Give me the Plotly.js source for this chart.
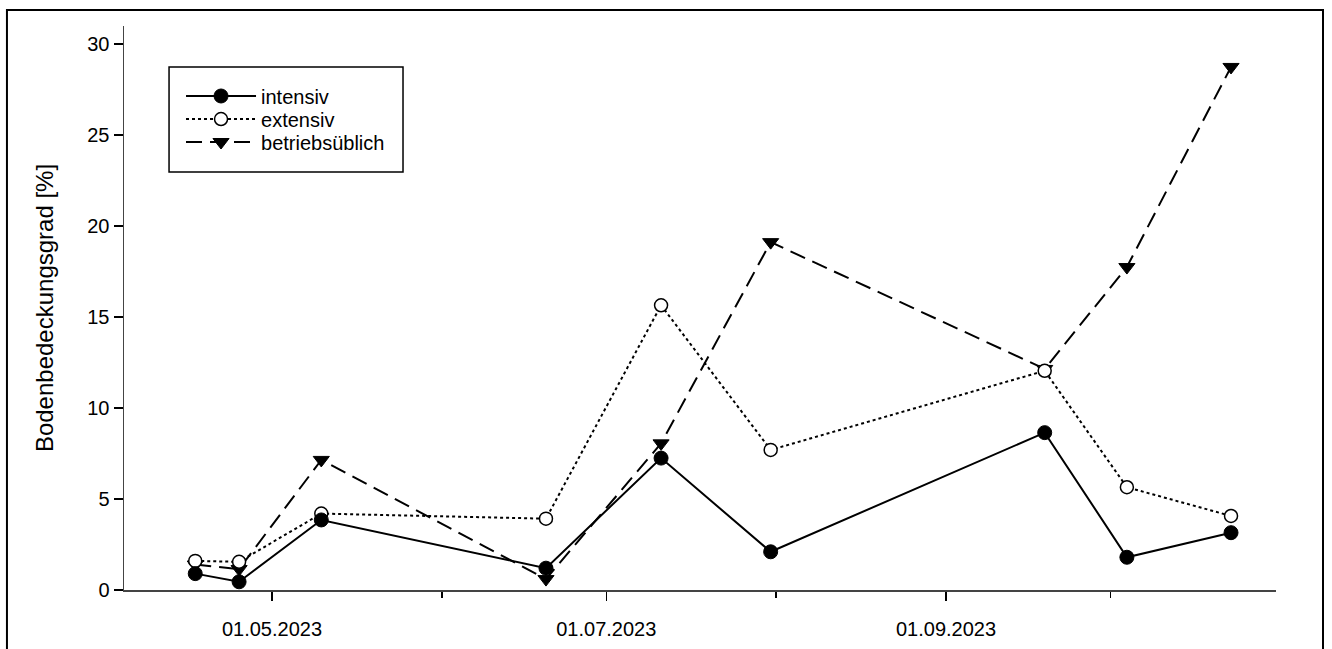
<!DOCTYPE html>
<html>
<head>
<meta charset="utf-8">
<script src="https://cdn.plot.ly/plotly-3.0.1.min.js"></script>
<style>
html,body{margin:0;padding:0;background:#fff;}
#chart{width:1332px;height:649px;}
</style>
</head>
<body>
<div id="chart"></div>
<script>
// Sampling dates
const dates = ['2023-04-17','2023-04-25','2023-05-10','2023-06-20','2023-07-11','2023-07-31','2023-09-19','2023-10-04','2023-10-23'];
// Series values (Bodenbedeckungsgrad in %)
const intensiv = [0.9, 0.45, 3.85, 1.2, 7.25, 2.1, 8.65, 1.8, 3.15];
const extensiv = [1.6, 1.55, 4.2, 3.92, 15.65, 7.7, 12.05, 5.65, 4.07];
const betriebsueblich = [1.4, 1.15, 7.15, 0.6, 8.06, 19.12, 12.15, 17.75, 28.75];
const seriesNames = ['intensiv', 'extensiv', 'betriebsüblich'];
const yTickVals = [0, 5, 10, 15, 20, 25, 30];

const FONT = 'Liberation Sans, Arial, sans-serif';

const traces = [
  {
    x: dates, y: betriebsueblich, name: seriesNames[2], type: 'scatter', mode: 'lines+markers',
    line: {color: '#000', width: 2, dash: '16px,8px'},
    marker: {symbol: 'triangle-down', size: 14, color: '#000', line: {color: '#000', width: 1}},
    legend: 'legend3'
  },
  {
    x: dates, y: extensiv, name: seriesNames[1], type: 'scatter', mode: 'lines+markers',
    line: {color: '#000', width: 2, dash: 'dot'},
    marker: {symbol: 'circle', size: 13, color: '#fff', line: {color: '#000', width: 1.5}},
    legend: 'legend2'
  },
  {
    x: dates, y: intensiv, name: seriesNames[0], type: 'scatter', mode: 'lines+markers',
    line: {color: '#000', width: 2},
    marker: {symbol: 'circle', size: 14, color: '#000', line: {color: '#000', width: 1}},
    legend: 'legend'
  }
];

function legendAt(y) {
  return {
    x: 0.0495, y: y, xanchor: 'left', yanchor: 'middle',
    bgcolor: 'rgba(0,0,0,0)', borderwidth: 0, itemwidth: 70,
    font: {family: FONT, size: 20, color: '#000'}
  };
}

const layout = {
  width: 1332, height: 649,
  margin: {l: 124, r: 56, t: 26, b: 59, pad: 0},
  paper_bgcolor: '#fff', plot_bgcolor: '#fff',
  font: {family: FONT, color: '#000', size: 20},
  showlegend: true,
  legend: legendAt(0.8759),
  legend2: legendAt(0.8351),
  legend3: legendAt(0.7943),
  xaxis: {
    type: 'date',
    range: ['2023-04-04', '2023-10-31 05:00'],
    tick0: '2023-05-01', dtick: 'M2', tickformat: '%d.%m.%Y',
    ticks: 'outside', ticklen: 9, tickwidth: 1.5, tickcolor: '#000',
    ticklabelstandoff: 11,
    minor: {dtick: 'M1', tick0: '2023-05-01', ticks: 'outside', ticklen: 6, tickwidth: 1.5, tickcolor: '#000', showgrid: false},
    showline: true, linecolor: '#444', linewidth: 1.5,
    showgrid: false, zeroline: false,
    tickfont: {family: FONT, size: 20, color: '#000'},
    fixedrange: true
  },
  yaxis: {
    range: [0, 31],
    tickvals: yTickVals,
    ticks: 'outside', ticklen: 9, tickwidth: 1.5, tickcolor: '#000',
    showline: true, linecolor: '#444', linewidth: 1.5,
    showgrid: false, zeroline: false,
    tickfont: {family: FONT, size: 20, color: '#000'},
    title: {text: 'Bodenbedeckungsgrad [%]', font: {family: FONT, size: 24, color: '#000'}, standoff: 27},
    fixedrange: true
  },
  shapes: [
    // outer frame
    {type: 'rect', xref: 'paper', yref: 'paper', x0: -0.1016, x1: 1.0408, y0: -0.13, y1: 1.0284,
     line: {color: '#000', width: 2}, fillcolor: 'rgba(0,0,0,0)', layer: 'above'},
    // legend box
    {type: 'rect', xref: 'paper', yref: 'paper', x0: 0.0391, x1: 0.2422, y0: 0.7411, y1: 0.9273,
     line: {color: '#000', width: 1.5}, fillcolor: 'rgba(0,0,0,0)', layer: 'above'}
  ]
};

Plotly.newPlot('chart', traces, layout, {displayModeBar: false, staticPlot: true});
</script>
</body>
</html>
